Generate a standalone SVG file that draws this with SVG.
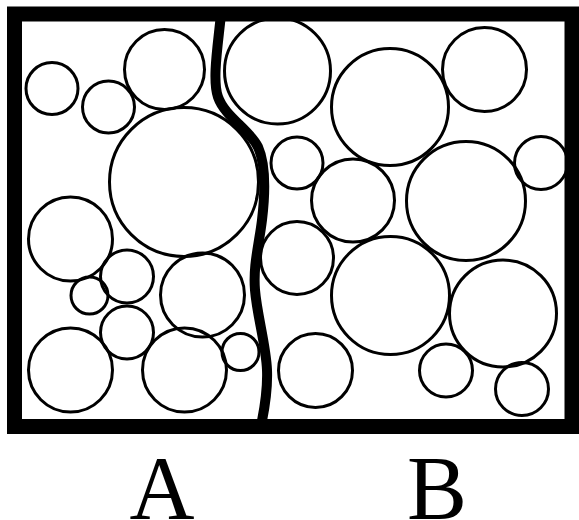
<svg xmlns="http://www.w3.org/2000/svg" width="579" height="520" viewBox="0 0 579 520">
<style>
.c{fill:none;stroke:#000;stroke-width:3}
.t{font-size:90px;fill:#000;text-anchor:middle}
</style>
<rect width="579" height="520" fill="#fff"/>
<g id="particles">
<circle class="c" cx="52" cy="88.5" r="26"/>
<circle class="c" cx="108.5" cy="107" r="26"/>
<circle class="c" cx="164.5" cy="69.5" r="40"/>
<circle class="c" cx="184" cy="182" r="74.5"/>
<circle class="c" cx="277.5" cy="71" r="53"/>
<circle class="c" cx="390" cy="107" r="58.5"/>
<circle class="c" cx="484.5" cy="69.5" r="42"/>
<circle class="c" cx="541" cy="163" r="26.5"/>
<circle class="c" cx="297" cy="163" r="26"/>
<circle class="c" cx="353" cy="200.5" r="41.5"/>
<circle class="c" cx="466" cy="201" r="59.5"/>
<circle class="c" cx="297" cy="258" r="36.5"/>
<circle class="c" cx="390.5" cy="295.5" r="59"/>
<circle class="c" cx="503" cy="313.5" r="53.5"/>
<circle class="c" cx="315.5" cy="370.5" r="37"/>
<circle class="c" cx="446" cy="370.5" r="26.5"/>
<circle class="c" cx="522" cy="389" r="26.5"/>
<circle class="c" cx="70.5" cy="239" r="42"/>
<circle class="c" cx="127" cy="276.5" r="26.5"/>
<circle class="c" cx="89.5" cy="295.5" r="18.5"/>
<circle class="c" cx="202.5" cy="295" r="42"/>
<circle class="c" cx="127" cy="332.5" r="26.5"/>
<circle class="c" cx="70.5" cy="370" r="42"/>
<circle class="c" cx="184.5" cy="370" r="42"/>
<circle class="c" cx="240.5" cy="352" r="18.5"/>
</g>
<g id="boundary">
<path d="M 221 14 C 218 45, 212 80, 218 97 C 225 117, 250 130, 258 147 C 266 165, 265 195, 262 220 C 259 245, 253 265, 255 290 C 257 315, 266 345, 267 370 C 268 395, 263 415, 261 426" fill="none" stroke="#000" stroke-width="10"/>
</g>
<g id="frame">
<rect x="14.5" y="14" width="557.5" height="412.5" fill="none" stroke="#000" stroke-width="15"/>
</g>
<g id="labels">
<text class="t" x="162" y="519" font-family="Liberation Serif, Times New Roman, serif">A</text>
<text class="t" x="437" y="519" font-family="Liberation Serif, Times New Roman, serif">B</text>
</g>
</svg>
